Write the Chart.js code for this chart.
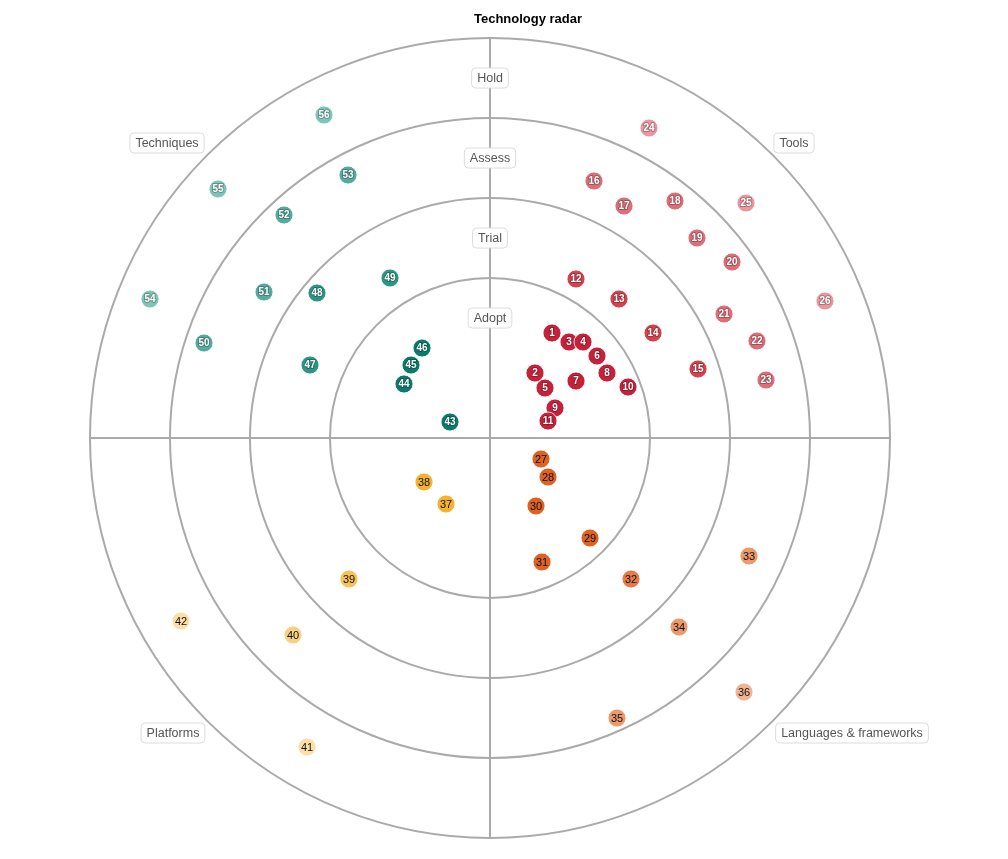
<!DOCTYPE html>
<html>
<head>
<meta charset="utf-8">
<script src="https://cdn.jsdelivr.net/npm/chart.js@4.4.0/dist/chart.umd.min.js"></script>
<style>
  html, body { margin: 0; padding: 0; background: #fff; }
  #wrap { width: 1008px; height: 859px; }
</style>
</head>
<body>
<div id="wrap"><canvas id="radar" width="1008" height="859"></canvas></div>
<script>
// rings and quadrants
const ringNames = ['Adopt', 'Trial', 'Assess', 'Hold']
const ringRadii = [160, 240, 320, 400]
const quadrantNames = ['Tools', 'Languages & frameworks', 'Platforms', 'Techniques']

// blips per quadrant: ids, x and y offset from the centre (outer ring = 400)
const toolIds = [1, 2, 3, 4, 5, 6, 7, 8, 9, 10, 11, 12, 13, 14, 15, 16, 17, 18, 19, 20, 21, 22, 23, 24, 25, 26]
const toolX = [62, 45, 79, 93, 55, 107, 86, 117, 65, 138, 58, 86, 129, 163, 208, 104, 134, 185, 207, 242, 234, 267, 276, 159, 256, 335]
const toolY = [105, 65, 96, 96, 50, 82, 57, 65, 30, 51, 17, 159, 139, 105, 69, 257, 232, 237, 200, 176, 124, 97, 58, 310, 235, 137]

const langIds = [27, 28, 29, 30, 31, 32, 33, 34, 35, 36]
const langX = [51, 58, 100, 46, 52, 141, 259, 189, 127, 254]
const langY = [-21, -39, -100, -68, -124, -141, -118, -189, -280, -254]

const platIds = [37, 38, 39, 40, 41, 42]
const platX = [-44, -66, -141, -197, -183, -309]
const platY = [-66, -44, -141, -197, -309, -183]

const techIds = [43, 44, 45, 46, 47, 48, 49, 50, 51, 52, 53, 54, 55, 56]
const techX = [-40, -86, -79, -68, -180, -173, -100, -286, -226, -206, -142, -340, -272, -166]
const techY = [16, 54, 73, 90, 73, 145, 160, 95, 146, 223, 263, 139, 249, 323]

// colours by ring (adopt -> hold)
const toolColors = ['#c4223a', '#d0434f', '#dc6e78', '#e8979e']
const langColors = ['#de6224', '#e57c48', '#ec996c', '#f1b393']
const platColors = ['#f5b231', '#f7c257', '#f9d182', '#fbdea8']
const techColors = ['#0b7a6b', '#2c9584', '#56ab9e', '#82c3b9']

const centerX = 490
const centerY = 438

function ringOf(p) {
    const r = Math.sqrt(p.x * p.x + p.y * p.y)
    for (let i = 0; i < ringRadii.length; i++) {
        if (r <= ringRadii[i]) return i
    }
    return ringRadii.length - 1
}

function makeSet(name, ids, xs, ys, colors, textColor) {
    const pts = ids.map((id, i) => ({ x: xs[i], y: ys[i], id: id }))
    return {
        label: name,
        data: pts,
        textColor: textColor,
        pointRadius: 9,
        pointHoverRadius: 9,
        pointBorderWidth: 1,
        pointBorderColor: 'rgba(255,255,255,0.8)',
        pointBackgroundColor: ctx => colors[ringOf(ctx.raw || { x: 0, y: 0 })]
    }
}

function roundBox(ctx, text, cx, cy) {
    ctx.font = '12.5px "Liberation Sans", Arial, sans-serif'
    const w = ctx.measureText(text).width + 11
    const h = 20
    const x = cx - w / 2, y = cy - h / 2
    ctx.beginPath()
    ctx.roundRect(x, y, w, h, 4)
    ctx.fillStyle = '#fff'
    ctx.fill()
    ctx.strokeStyle = '#dcdcdc'
    ctx.lineWidth = 1
    ctx.stroke()
    ctx.fillStyle = '#555'
    ctx.textAlign = 'center'
    ctx.textBaseline = 'middle'
    ctx.fillText(text, cx, cy + 1)
}

const radarGrid = {
    id: 'radarGrid',
    beforeDatasetsDraw(chart) {
        const ctx = chart.ctx
        const xs = chart.scales.x, ys = chart.scales.y
        const cx = xs.getPixelForValue(0), cy = ys.getPixelForValue(0)
        const outer = ringRadii[ringRadii.length - 1]
        ctx.save()
        ctx.strokeStyle = '#aaaaaa'
        ctx.lineWidth = 2
        ringRadii.forEach(r => {
            const rp = xs.getPixelForValue(r) - cx
            ctx.beginPath()
            ctx.arc(cx, cy, rp, 0, Math.PI * 2)
            ctx.stroke()
        })
        ctx.beginPath()
        ctx.moveTo(xs.getPixelForValue(-outer), cy)
        ctx.lineTo(xs.getPixelForValue(outer), cy)
        ctx.moveTo(cx, ys.getPixelForValue(outer))
        ctx.lineTo(cx, ys.getPixelForValue(-outer))
        ctx.stroke()

        // ring names, 40 units inside each ring on the vertical axis
        ringNames.forEach((n, i) => {
            roundBox(ctx, n, cx, ys.getPixelForValue(ringRadii[i] - 40))
        })
        // quadrant names
        const qx = [304, 362, -317, -323]
        const qy = [295, -295, -295, 295]
        quadrantNames.forEach((n, i) => {
            roundBox(ctx, n, xs.getPixelForValue(qx[i]), ys.getPixelForValue(qy[i]))
        })
        ctx.restore()
    },
    afterDatasetsDraw(chart) {
        const ctx = chart.ctx
        ctx.save()
        ctx.textAlign = 'center'
        ctx.textBaseline = 'middle'
        ctx.lineJoin = 'round'
        chart.data.datasets.forEach((ds, di) => {
            const meta = chart.getDatasetMeta(di)
            meta.data.forEach((el, i) => {
                const t = String(ds.data[i].id)
                if (ds.textColor === '#fff') {
                    ctx.font = 'bold 10px "Liberation Sans", Arial, sans-serif'
                    ctx.lineWidth = 2
                    ctx.strokeStyle = 'rgba(0,0,0,0.25)'
                    ctx.strokeText(t, el.x, el.y + 0.5)
                    ctx.fillStyle = '#fff'
                } else {
                    ctx.font = '11px "Liberation Sans", Arial, sans-serif'
                    ctx.fillStyle = '#111'
                }
                ctx.fillText(t, el.x, el.y + 0.5)
            })
        })
        ctx.restore()
    }
}

const ctxEl = document.getElementById('radar')
const myChart = new Chart(ctxEl, {
    type: 'scatter',
    data: {
        datasets: [
            makeSet('Tools', toolIds, toolX, toolY, toolColors, '#fff'),
            makeSet('Languages & frameworks', langIds, langX, langY, langColors, '#111'),
            makeSet('Platforms', platIds, platX, platY, platColors, '#111'),
            makeSet('Techniques', techIds, techX, techY, techColors, '#fff')
        ]
    },
    options: {
        responsive: false,
        animation: false,
        layout: { padding: { left: 48, right: 0, top: 0, bottom: 0 } },
        scales: {
            x: { type: 'linear', display: false, min: -442, max: 518 },
            y: { type: 'linear', display: false, min: -422, max: 400 }
        },
        plugins: {
            legend: { display: false },
            tooltip: { enabled: false },
            title: {
                display: true,
                text: 'Technology radar',
                color: '#000',
                font: { size: 13, weight: 'bold', family: '"Liberation Sans", Arial, sans-serif' },
                padding: { top: 12, bottom: 4 }
            }
        },
        clip: false
    },
    plugins: [radarGrid]
})

// make one data unit equal one pixel, with the centre at (490, 438)
const ca = myChart.chartArea
myChart.options.scales.x.min = -(centerX - ca.left)
myChart.options.scales.x.max = ca.right - centerX
myChart.options.scales.y.max = centerY - ca.top
myChart.options.scales.y.min = -(ca.bottom - centerY)
myChart.update()
</script>
</body>
</html>
